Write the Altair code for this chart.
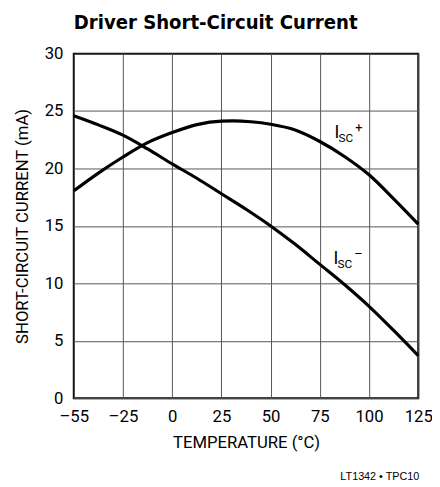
import altair as alt
import pandas as pd

FONT = "DejaVu Sans Condensed, Liberation Sans Narrow, Roboto, sans-serif"
TICKFONT = "Roboto, sans-serif"

# Data
temp_plus = [-55, -40, -25, -12.5, 0, 12.5, 25, 31, 40, 50, 62.5, 75, 87.5, 100, 112.5, 125]
isc_plus = [18.05, 19.6, 21.0, 22.25, 23.13, 23.82, 24.13, 24.15, 24.07, 23.85, 23.35, 22.35, 21.05, 19.45, 17.35, 15.15]
temp_minus = [-55, -40, -25, -12.5, 0, 12.5, 25, 37.5, 50, 62.5, 75, 87.5, 100, 112.5, 125]
isc_minus = [24.6, 23.8, 22.9, 21.7, 20.4, 19.15, 17.8, 16.45, 15.0, 13.4, 11.65, 9.9, 8.0, 5.9, 3.7]

x_ticks = [-55, -25, 0, 25, 50, 75, 100, 125]
y_ticks = [0, 5, 10, 15, 20, 25, 30]

label_series = ["plus", "minus"]
label_temp = [82.5, 82.0]
label_current = [22.65, 11.65]
label_sup = ["+", "\u2013"]

W = 351
H = 351

df = pd.concat([
    pd.DataFrame({"temp": temp_plus, "isc": isc_plus, "series": "ISC+"}),
    pd.DataFrame({"temp": temp_minus, "isc": isc_minus, "series": "ISC-"}),
])
lab = pd.DataFrame({"series": label_series, "temp": label_temp, "isc": label_current, "sup": label_sup})

xscale = alt.Scale(domain=[-55, -25, 125], range=[0, W / 7, W], nice=False, zero=False)
yscale = alt.Scale(domain=[0, 30], nice=False, zero=False)

xenc = alt.X("temp:Q", scale=xscale, axis=alt.Axis(
    values=x_ticks, title="TEMPERATURE (°C)",
    labelExpr="datum.value < 0 ? '\u2013' + abs(datum.value) : '' + datum.value",
    grid=True, ticks=False, domain=False, labelPadding=11, titlePadding=10,
    labelFontSize=17, titleFontSize=17, labelFlush=False, labelOverlap=False))
yenc = alt.Y("isc:Q", scale=yscale, axis=alt.Axis(
    values=y_ticks, title="SHORT-CIRCUIT CURRENT (mA)",
    grid=True, ticks=False, domain=False, labelPadding=11, titlePadding=13,
    labelFontSize=17, titleFontSize=17, labelFlush=False))

lines = alt.Chart(df).mark_line(color="black", strokeWidth=3.2, interpolate="monotone").encode(
    x=xenc, y=yenc, detail="series:N")

base_lab = alt.Chart(lab).encode(x=alt.X("temp:Q", scale=xscale), y=alt.Y("isc:Q", scale=yscale))
t_i = base_lab.mark_text(text="I", font=TICKFONT, fontSize=18, align="left", baseline="alphabetic", color="black")
t_sc = base_lab.mark_text(text="SC", font=TICKFONT, fontSize=12, align="left", baseline="alphabetic",
                          dx=4, dy=4, color="black")
t_sup = base_lab.mark_text(font=TICKFONT, fontSize=13, align="left", baseline="alphabetic",
                           dx=21, dy=-6, color="black").encode(text="sup:N")

footer = alt.Chart(pd.DataFrame({"t": ["LT1342 \u2022 TPC10"]})).mark_text(
    font="Liberation Sans, Arial, sans-serif", fontSize=11, align="right", baseline="alphabetic", color="black"
).encode(text="t:N", x=alt.value(W + 1), y=alt.value(H + 83))

chart = alt.layer(lines, t_i, t_sc, t_sup, footer).properties(
    width=W, height=H,
    title=alt.TitleParams("Driver Short-Circuit Current", anchor="start", frame="group", font=FONT,
                          fontSize=20.5, fontWeight="bold", color="black", offset=12),
    autosize=alt.AutoSizeParams(type="none"),
    padding={"left": 67, "top": 42, "right": 14, "bottom": 86},
).configure_view(stroke="black", strokeWidth=2).configure_axis(
    labelFont=TICKFONT, titleFont=TICKFONT, labelColor="black", titleColor="black",
    titleFontWeight="normal", gridColor="#555", gridWidth=1, gridOpacity=1
)

chart.save("out.html", embed_options={"renderer": "svg", "actions": False})
